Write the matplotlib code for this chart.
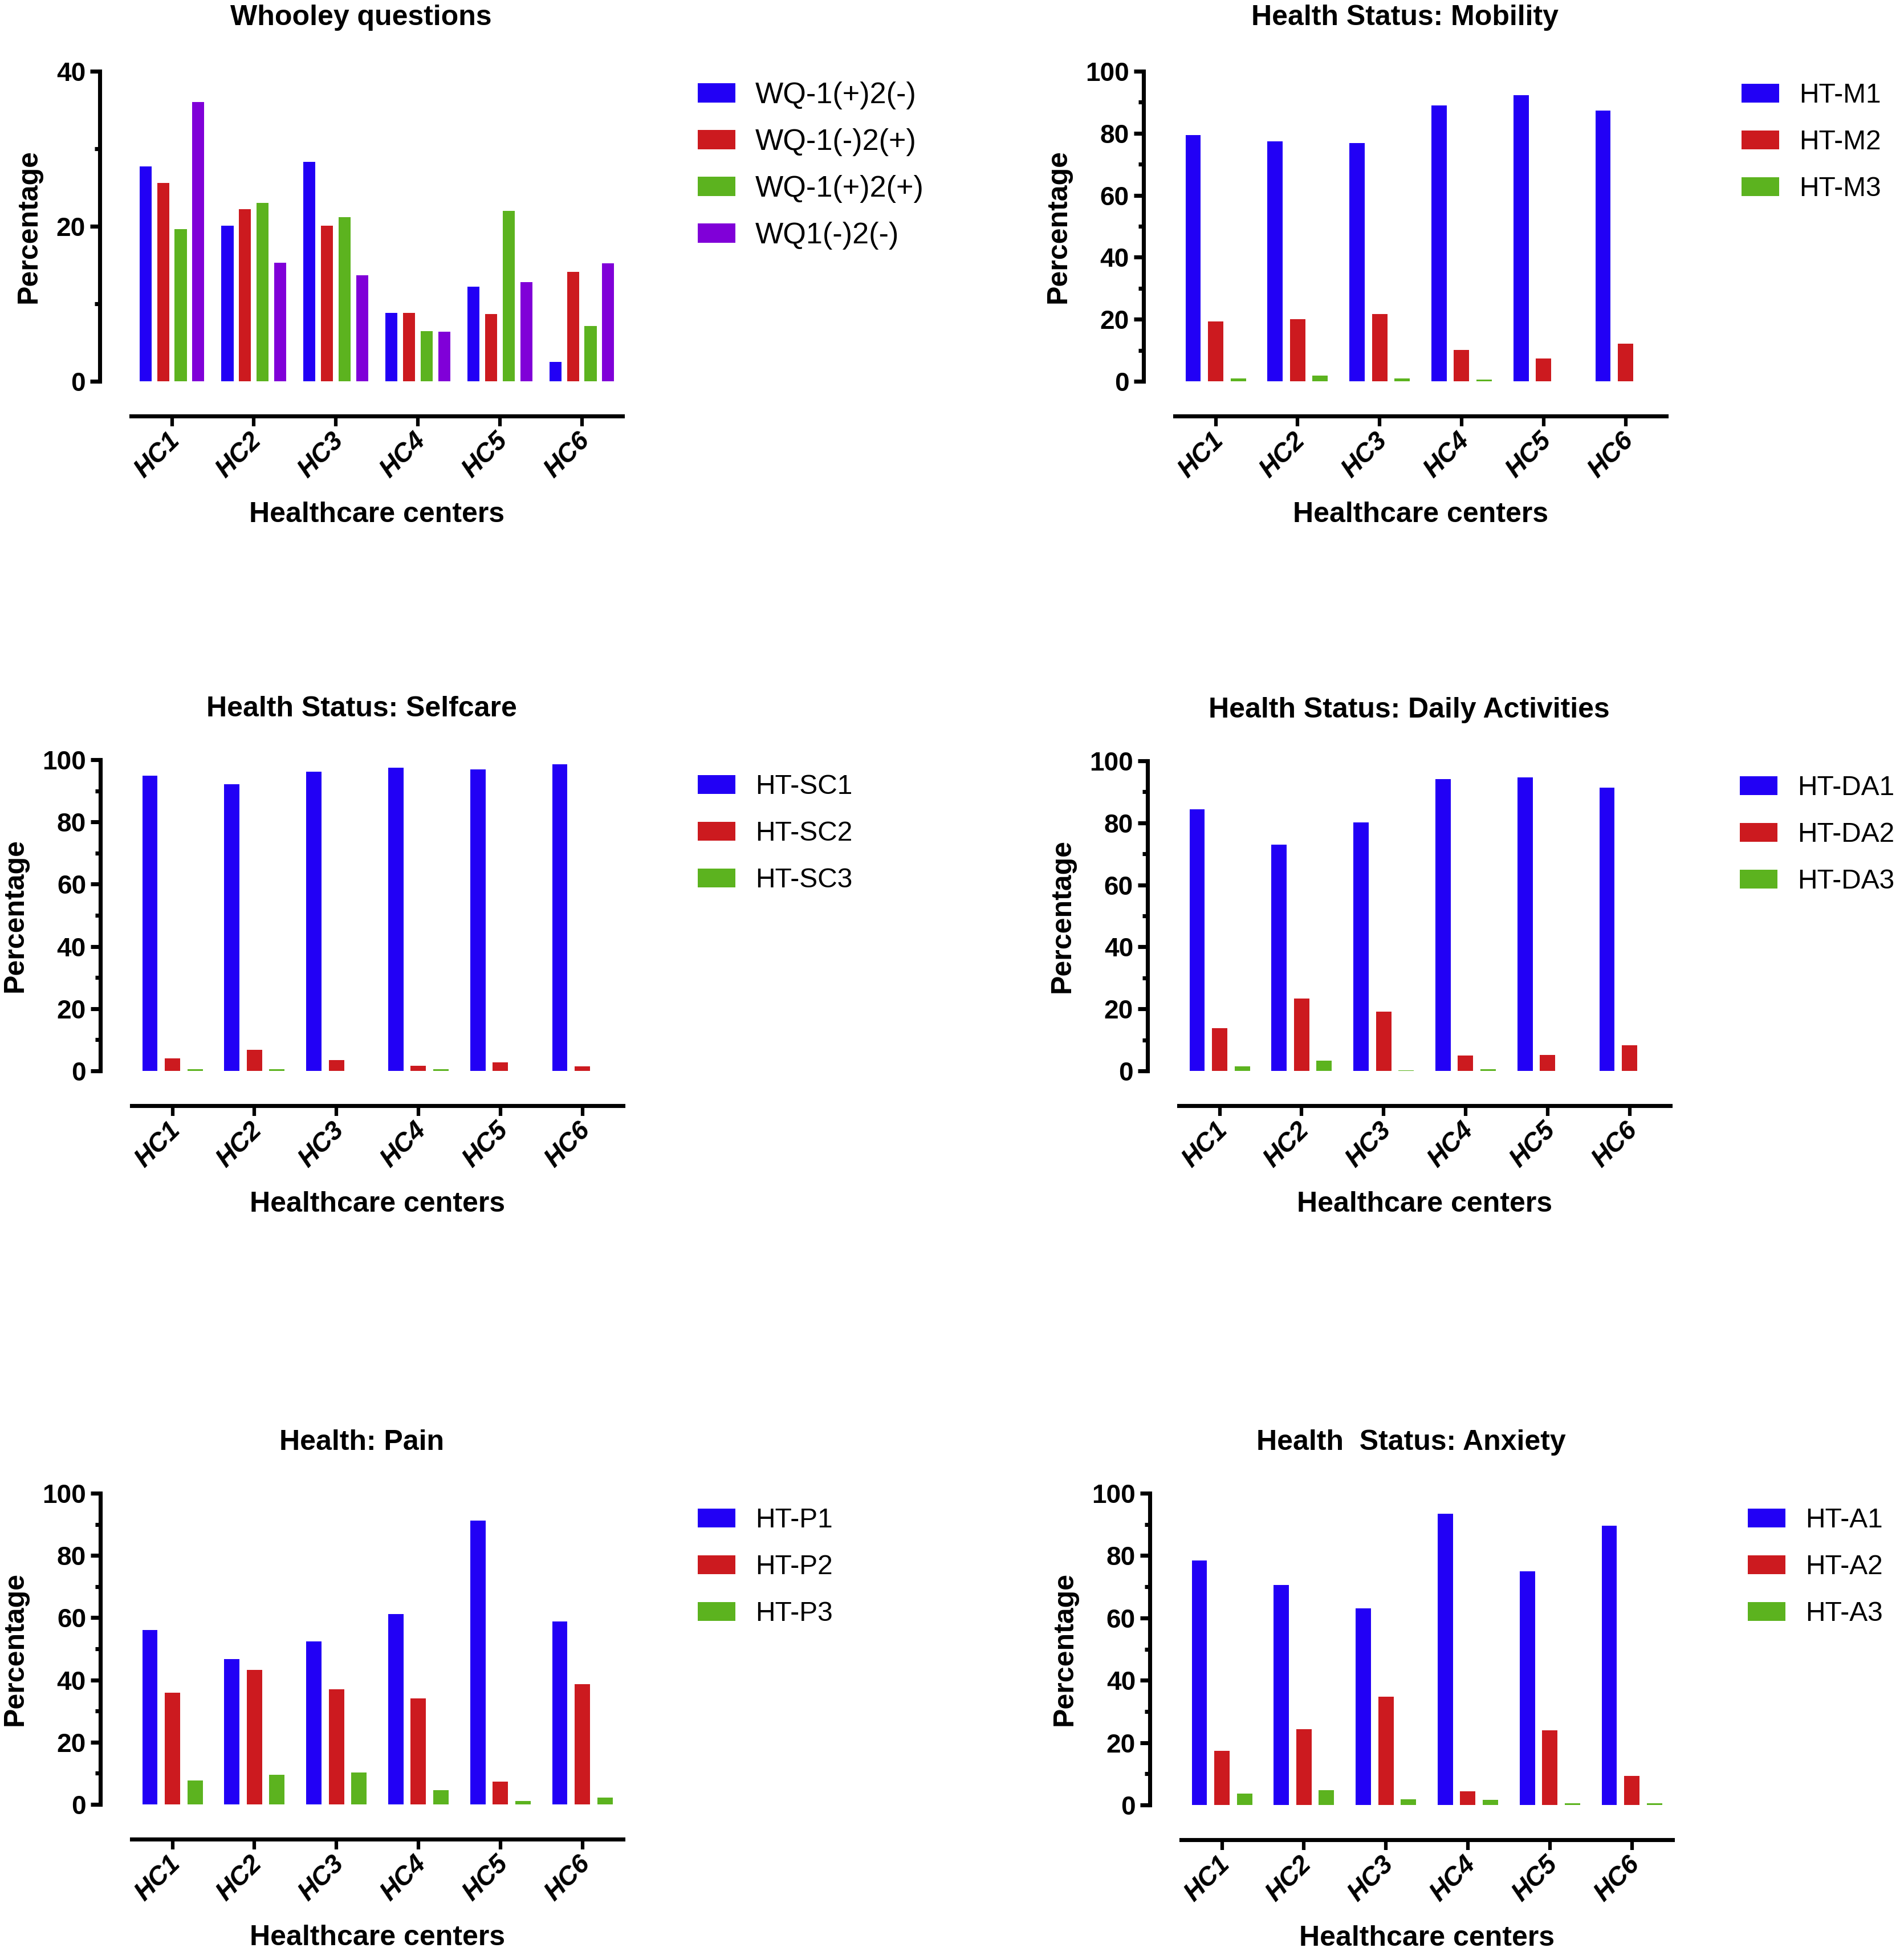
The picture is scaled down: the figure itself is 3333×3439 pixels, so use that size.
import matplotlib
matplotlib.use('Agg')
import matplotlib.pyplot as plt
import numpy as np
from matplotlib.transforms import ScaledTranslation

plt.rcParams['font.family'] = ['Liberation Sans', 'DejaVu Sans']

# ---------------- data ----------------
centers = ['HC1', 'HC2', 'HC3', 'HC4', 'HC5', 'HC6']

wq_labels = ['WQ-1(+)2(-)', 'WQ-1(-)2(+)', 'WQ-1(+)2(+)', 'WQ1(-)2(-)']
wq_pos_neg = [27.7, 20.1, 28.3, 8.8, 12.2, 2.5]
wq_neg_pos = [25.6, 22.2, 20.1, 8.8, 8.7, 14.1]
wq_pos_pos = [19.6, 23.0, 21.2, 6.5, 22.0, 7.1]
wq_neg_neg = [36.0, 15.3, 13.7, 6.4, 12.8, 15.2]

mob_labels = ['HT-M1', 'HT-M2', 'HT-M3']
mob_1 = [79.4, 77.3, 76.9, 89.0, 92.3, 87.4]
mob_2 = [19.3, 20.1, 21.6, 10.1, 7.3, 12.2]
mob_3 = [0.9, 1.9, 0.9, 0.6, 0.0, 0.0]

sc_labels = ['HT-SC1', 'HT-SC2', 'HT-SC3']
sc_1 = [94.9, 92.1, 96.1, 97.4, 96.8, 98.6]
sc_2 = [4.1, 6.7, 3.4, 1.7, 2.8, 1.5]
sc_3 = [0.5, 0.6, 0.0, 0.5, 0.0, 0.0]

da_labels = ['HT-DA1', 'HT-DA2', 'HT-DA3']
da_1 = [84.4, 72.9, 80.1, 94.2, 94.6, 91.4]
da_2 = [13.8, 23.3, 19.1, 4.9, 5.1, 8.3]
da_3 = [1.4, 3.4, 0.25, 0.5, 0.0, 0.0]

pain_labels = ['HT-P1', 'HT-P2', 'HT-P3']
pain_1 = [56.1, 46.7, 52.4, 61.2, 91.2, 58.7]
pain_2 = [35.9, 43.3, 37.0, 34.1, 7.3, 38.6]
pain_3 = [7.7, 9.6, 10.3, 4.5, 1.1, 2.2]

anx_labels = ['HT-A1', 'HT-A2', 'HT-A3']
anx_1 = [78.4, 70.5, 63.0, 93.5, 75.0, 89.5]
anx_2 = [17.4, 24.4, 34.8, 4.4, 23.9, 9.4]
anx_3 = [3.7, 4.8, 1.8, 1.7, 0.6, 0.6]

colors = ['#2200F5', '#CC1A1F', '#5CB31F', '#8000D8']

# ---------------- layout ----------------
W, H = 3333, 3439
DPI = 300
fig = plt.figure(figsize=(W / DPI, H / DPI), dpi=DPI)

GROUP_PX = 143.8
XL = (-0.88, 5.5)
OFFSET_PX = 61
LW = 1.7


def panel(title, series, labels, ymax, left_px, top_px, zero_px, leg_xy,
          title_pad, leg_fs):
    n = len(series)
    ax_w = (XL[1] - XL[0]) * GROUP_PX
    bottom_px = zero_px + OFFSET_PX
    ax_h = bottom_px - top_px
    ax = fig.add_axes([left_px / W, 1 - bottom_px / H, ax_w / W, ax_h / H])
    per_px = (zero_px - top_px) / ymax
    ymin = -OFFSET_PX / per_px
    ax.set_xlim(*XL)
    ax.set_ylim(ymin, ymax)

    if n == 4:
        bw, stride = 0.147, 0.215
    else:
        bw, stride = 0.187, 0.275
    x = np.arange(len(centers))
    handles = []
    for i, (vals, lab) in enumerate(zip(series, labels)):
        h = ax.bar(x + (i - (n - 1) / 2) * stride, vals, width=bw,
                   color=colors[i], label=lab, linewidth=0)
        handles.append(h)

    for s in ['top', 'right']:
        ax.spines[s].set_visible(False)
    ax.spines['left'].set_bounds(0, ymax)
    ax.spines['bottom'].set_bounds(-0.5, 5.5)
    ax.spines['left'].set_linewidth(LW)
    ax.spines['bottom'].set_linewidth(LW)

    step = 20
    ax.set_yticks(np.arange(0, ymax + 1, step))
    ax.set_yticks(np.arange(step / 2, ymax, step), minor=True)
    ax.tick_params(axis='y', which='major', length=4.0, width=LW, pad=2,
                   labelsize=11)
    ax.tick_params(axis='y', which='minor', length=2.2, width=LW)
    for t in ax.get_yticklabels():
        t.set_fontweight('bold')

    ax.set_xticks(x)
    ax.set_xticklabels(centers, rotation=45, ha='right', va='top',
                       rotation_mode='anchor', fontweight='bold',
                       fontstyle='italic', fontsize=11)
    ax.tick_params(axis='x', which='major', length=4.3, width=1.5, pad=0.8)
    off = ScaledTranslation(-9 / DPI, 0, fig.dpi_scale_trans)
    for t in ax.get_xticklabels():
        t.set_transform(t.get_transform() + off)

    ax.set_ylabel('Percentage', fontsize=12, fontweight='bold', labelpad=6)
    ax.yaxis.label.set_y((ymax / 2 - ymin) / (ymax - ymin))
    ax.set_xlabel('Healthcare centers', fontsize=12, fontweight='bold',
                  va='center')
    ax.xaxis.set_label_coords((2.5 - XL[0]) / (XL[1] - XL[0]),
                              -173 / ax_h)
    ax.set_title(title, fontsize=12, fontweight='bold', pad=title_pad)

    fs_px = leg_fs * DPI / 72
    text_h = 0.94 * fs_px
    ax.legend(handles=handles, labels=labels, loc='upper left',
              bbox_to_anchor=(leg_xy[0] / W, 1 - leg_xy[1] / H),
              bbox_transform=fig.transFigure, frameon=False, fontsize=leg_fs,
              handlelength=66 / fs_px, handleheight=33 / fs_px,
              handletextpad=35 / fs_px,
              labelspacing=(82 - text_h) / fs_px, borderpad=0,
              borderaxespad=0)
    return ax


panel('Whooley questions', [wq_pos_neg, wq_neg_pos, wq_pos_pos, wq_neg_neg],
      wq_labels, 40, 175, 125, 669, (1224, 143), 19.5, 12.5)
panel('Health Status: Mobility', [mob_1, mob_2, mob_3], mob_labels, 100,
      2006, 125, 669, (3055, 145), 19.5, 11.5)
panel('Health Status: Selfcare', [sc_1, sc_2, sc_3], sc_labels, 100,
      176, 1333, 1879, (1224, 1358), 18.3, 11.5)
panel('Health Status: Daily Activities', [da_1, da_2, da_3], da_labels, 100,
      2013, 1335, 1879, (3052, 1360), 18.3, 11.5)
panel('Health: Pain', [pain_1, pain_2, pain_3], pain_labels, 100,
      176, 2620, 3166, (1224, 2645), 18.3, 11.5)
panel('Health  Status: Anxiety', [anx_1, anx_2, anx_3], anx_labels, 100,
      2017, 2620, 3167, (3066, 2645), 18.3, 11.5)

fig.savefig('out.png', dpi=DPI)
